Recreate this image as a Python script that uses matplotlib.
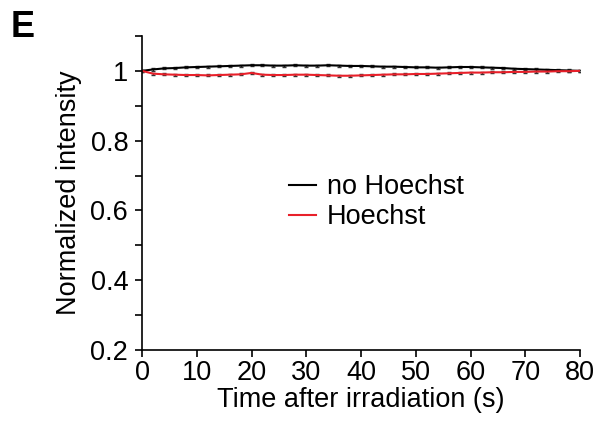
import matplotlib
matplotlib.use('Agg')
import matplotlib.pyplot as plt
from matplotlib.lines import Line2D

plt.rcParams['font.family'] = ['Liberation Sans', 'DejaVu Sans']

time_s = list(range(0, 82, 2))
no_hoechst = [1.0, 1.004, 1.007, 1.008, 1.01, 1.011, 1.012, 1.013, 1.014, 1.015,
              1.016, 1.016, 1.015, 1.015, 1.016, 1.015, 1.015, 1.016, 1.015, 1.014,
              1.014, 1.013, 1.012, 1.012, 1.011, 1.01, 1.01, 1.009, 1.01, 1.011,
              1.011, 1.01, 1.009, 1.008, 1.006, 1.005, 1.004, 1.003, 1.002, 1.001, 1.0]
hoechst = [1.0, 0.992, 0.99, 0.989, 0.988, 0.988, 0.987, 0.988, 0.989, 0.99,
           0.994, 0.989, 0.988, 0.988, 0.989, 0.989, 0.988, 0.987, 0.986, 0.986,
           0.987, 0.988, 0.989, 0.99, 0.99, 0.991, 0.991, 0.992, 0.993, 0.994,
           0.995, 0.995, 0.996, 0.996, 0.997, 0.997, 0.998, 0.998, 0.999, 0.999, 1.0]
err = 0.003

black = 'black'
red = '#e8202a'

fig = plt.figure(figsize=(5.98, 4.21), dpi=100)
ax = fig.add_axes([0.2375, 0.1686, 0.7325, 0.746])

ax.errorbar(time_s, no_hoechst, yerr=err, color=black, ecolor='#333333',
            lw=1.5, elinewidth=1, capsize=1.5)
ax.errorbar(time_s, hoechst, yerr=err, color=red, ecolor='#333333',
            lw=1.5, elinewidth=1, capsize=1.5)

ax.set_xlim(0, 80)
ax.set_ylim(0.2, 1.1)
ax.set_xticks(range(0, 81, 10))
ax.set_yticks([0.2, 0.4, 0.6, 0.8, 1.0])
ax.set_yticklabels(['0.2', '0.4', '0.6', '0.8', '1'])
ax.set_yticks([0.3, 0.5, 0.7, 0.9, 1.1], minor=True)
ax.tick_params(axis='both', labelsize=19.5, direction='out', length=5, width=1.2, pad=2)
ax.tick_params(axis='y', pad=5)
ax.tick_params(axis='y', which='minor', direction='out', length=5, width=1.2)
ax.spines['top'].set_visible(False)
ax.spines['right'].set_visible(False)
ax.spines['left'].set_linewidth(1.2)
ax.spines['bottom'].set_linewidth(1.2)

ax.set_xlabel('Time after irradiation (s)', fontsize=19.5, labelpad=1)
ax.set_ylabel('Normalized intensity', fontsize=19.5, labelpad=6)

handles = [Line2D([], [], color=black, lw=1.5), Line2D([], [], color=red, lw=1.5)]
ax.legend(handles, ['no Hoechst', 'Hoechst'], loc='center left',
          bbox_to_anchor=(0.28, 0.47), frameon=False,
          fontsize=19.5, handlelength=1.0, handletextpad=0.4,
          labelspacing=0.15)

fig.text(0.017, 0.912, 'E', fontsize=26, fontweight='bold')

fig.savefig('out.png', dpi=100)
